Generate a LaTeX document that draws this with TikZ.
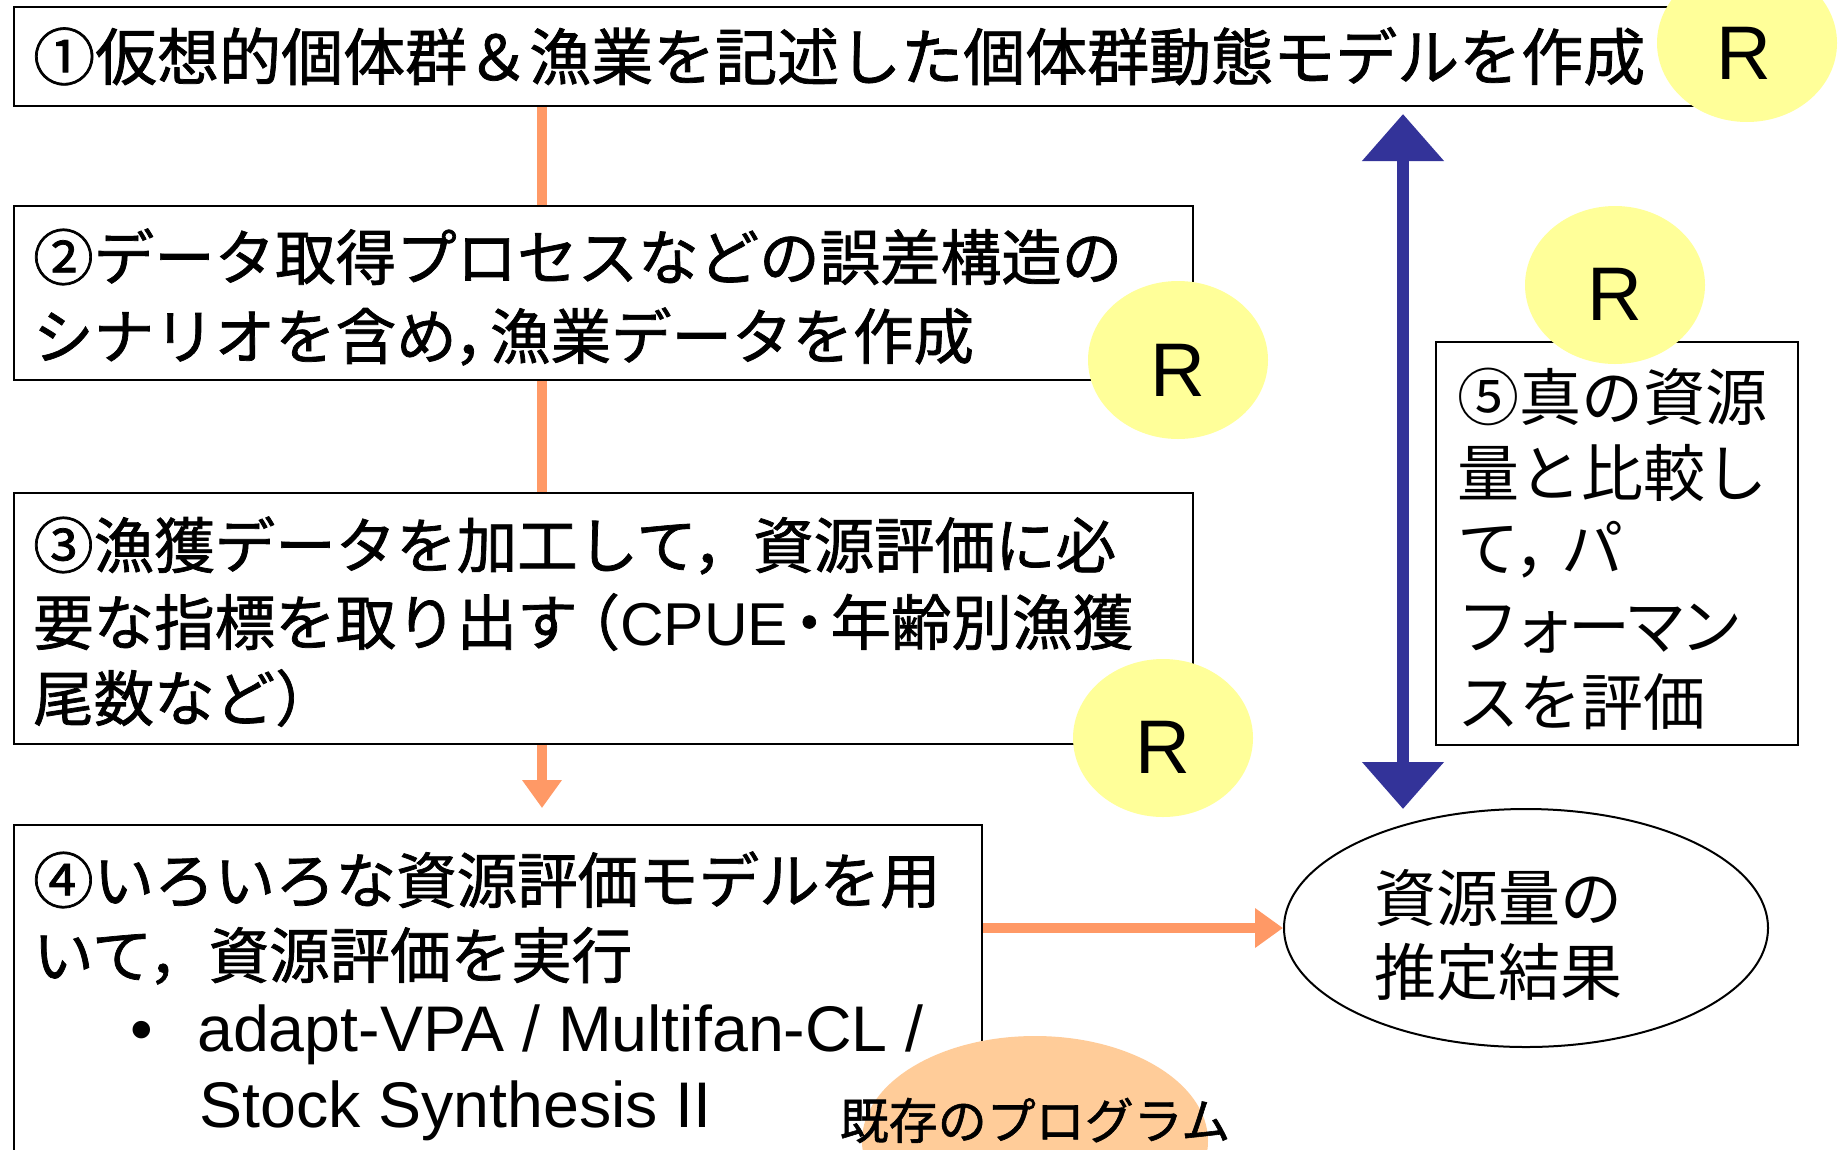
\documentclass[tikz,border=0pt]{standalone}
\usepackage{fontspec}
\setmainfont{Liberation Sans}
\newfontfamily\jp{Noto Sans CJK JP}
\newfontfamily\jpb[FakeBold=1.2]{Noto Sans CJK JP}
\usetikzlibrary{arrows.meta,shapes.geometric}
\definecolor{rYellow}{HTML}{FFFF99}
\definecolor{peach}{HTML}{FFCC99}
\definecolor{orangeln}{HTML}{FF9966}
\definecolor{navyarr}{HTML}{333399}
\begin{document}
\begin{tikzpicture}[x=1pt,y=-1pt,
 boxstyle/.style={draw=black,line width=2pt,fill=white,inner sep=0pt,anchor=north west},
 jtext/.style={anchor=base west,inner sep=0pt,font=\jpb\fontsize{60.5pt}{70pt}\selectfont},
 jtop/.style={anchor=base west,inner sep=0pt,font=\jpb\fontsize{62pt}{72pt}\selectfont},
 jbig/.style={anchor=base west,inner sep=0pt,font=\jp\fontsize{62pt}{72pt}\selectfont},
 ltext/.style={anchor=base west,inner sep=0pt,font=\fontsize{64.5pt}{72pt}\selectfont},
 rcirc/.style={ellipse,fill=rYellow,minimum width=180pt,minimum height=158pt,inner sep=0pt},
 rtext/.style={inner sep=0pt,font=\fontsize{76pt}{80pt}\selectfont},
 oline/.style={draw=orangeln,line width=10pt},
 oarrow/.style={oline,-{Triangle[width=38pt,length=28pt]}},
 barrow/.style={draw=navyarr,line width=12pt,{Triangle[width=79pt,length=47pt]}-{Triangle[width=79pt,length=47pt]}}
]
\useasboundingbox[fill=white] (0,0) rectangle (1838,1149);
\clip (0,0) rectangle (1838,1149);
% boxes
\node[boxstyle,minimum width=1707pt,minimum height=99pt] (b1) at (13,6) {};
\node[boxstyle,minimum width=1179pt,minimum height=174pt] (b2) at (13,205) {};
\node[boxstyle,minimum width=1179pt,minimum height=251pt] (b3) at (13,492) {};
\node[boxstyle,minimum width=968pt,minimum height=350pt] (b4) at (13,824) {};
\node[boxstyle,minimum width=362pt,minimum height=403pt] (b5) at (1435,341) {};
\node[ellipse,draw=black,line width=2pt,fill=white,minimum width=484pt,minimum height=238pt,inner sep=0pt] (est) at (1526,928) {};
% connectors
\coordinate (cx) at (542,0);
\coordinate (tipd) at (542,808);
\draw[oline] (b1.south -| cx) -- (b2.north -| cx);
\draw[oline] (b2.south -| cx) -- (b3.north -| cx);
\draw[oarrow] (b3.south -| cx) -- (tipd);
\draw[oarrow] (est.west -| b4.east) -- (est.west);
\coordinate (btop) at (1403,114);
\coordinate (bbot) at (1403,809);
\draw[barrow] (bbot) -- (btop);
% R circles
\node[rcirc] (r1) at (1747,43) {};
\node[rcirc] (r2) at (1178,360) {};
\node[rcirc] (r3) at (1163,738) {};
\node[rcirc] (r4) at (1615,285) {};
\node[rtext] (r1t) at (1744,53) {R};
\node[rtext] (r2t) at (1178,370) {R};
\node[rtext] (r3t) at (1163,747) {R};
\node[rtext] (r4t) at (1615,294) {R};
% existing program circle
\node[ellipse,fill=peach,minimum width=346pt,minimum height=210pt,inner sep=0pt] (pc) at (1035,1141) {};
% texts
\node[jtop] (t1) at (33,80) {①仮想的個体群＆漁業を記述した個体群動態モデルを作成};
\node[jtext] (t2a) at (33,280) {②データ取得プロセスなどの誤差構造の};
\node[jtext] (t2b) at (33,359) {シナリオを含め，\kern-0.4em 漁業データを作成};
\node[jtext] (t3a) at (33,568) {③漁獲データを加工して，資源評価に必};
\node[jtext] (t3b) at (33,645) {要な指標を取り出す\kern-0.3em（{\normalfont CPUE}\kern-0.15em・\kern-0.15em 年齢別漁獲};
\node[jtext] (t3c) at (33,721) {尾数など）};
\node[jtext] (t4a) at (33,903) {④いろいろな資源評価モデルを用};
\node[jtext] (t4b) at (33,978) {いて，資源評価を実行};
\node[ltext,anchor=base] (bul) at (142,1051) {•};
\node[ltext] (t4c) at (197,1051) {adapt-VPA / Multifan-CL /};
\node[ltext] (t4d) at (199,1127) {Stock Synthesis II};
\node[jbig] (t5a) at (1457,420) {⑤真の資源};
\node[jbig] (t5b) at (1457,496) {量と比較し};
\node[jbig] (t5c) at (1457,571) {て，\kern-0.25em パ};
\node[jbig] (t5d) at (1457,649) {フ\kern-0.1em ォ\kern-0.1em ー\kern-0.1em マ\kern-0.1em ン};
\node[jbig] (t5e) at (1457,725) {スを評価};
\node[jbig] (e1) at (1374,921) {資源量の};
\node[jbig] (e2) at (1374,995) {推定結果};
\node[anchor=base,inner sep=0pt,font=\jpb\fontsize{49pt}{56pt}\selectfont] (pt) at (1035,1139) {既存のプログラム};
\end{tikzpicture}
\end{document}
